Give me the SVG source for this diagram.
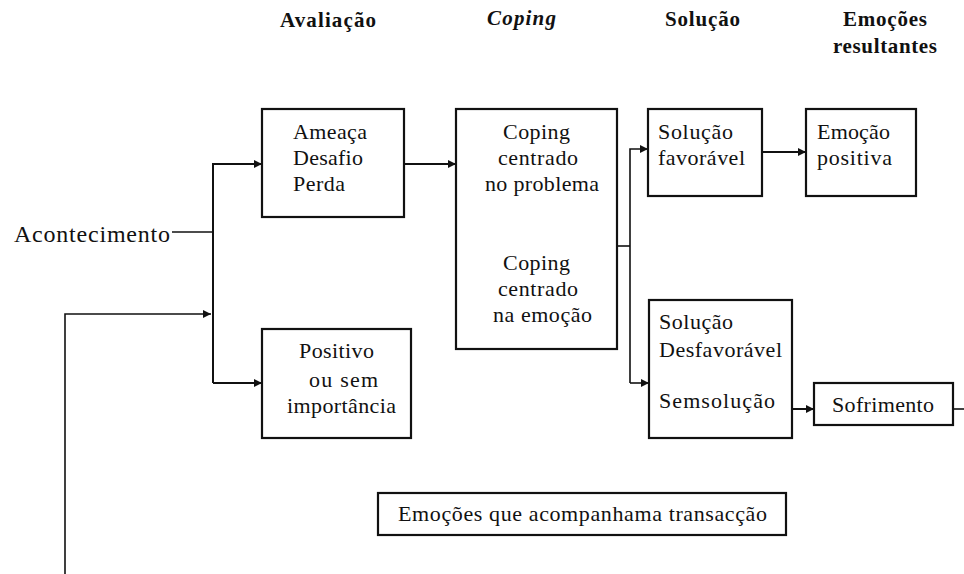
<svg xmlns="http://www.w3.org/2000/svg" width="964" height="574" viewBox="0 0 964 574">
<style>
text{font-family:"Liberation Serif",Tinos,"DejaVu Serif","Noto Serif",serif;font-size:22px;fill:#111}
.h{font-weight:bold;font-size:21px}
.hi{font-style:italic;font-weight:bold;font-size:21px}
.big{font-size:24px}
.box{fill:#fff;stroke:#111;stroke-width:2.2}
.c{fill:none;stroke:#111;stroke-width:1.6}
.t{fill:none;stroke:#111;stroke-width:2}
</style>
<defs>
<marker id="ah" viewBox="0 0 10 10" refX="10" refY="5" markerWidth="10" markerHeight="8" markerUnits="userSpaceOnUse" orient="auto">
<path d="M0,0 L10,5 L0,10 Z" fill="#111"/>
</marker>
</defs>
<g id="headers">
<text class="h" x="280" y="27" textLength="96">Avaliação</text>
<text class="hi" x="487" y="25" textLength="69">Coping</text>
<text class="h" x="665" y="26" textLength="75">Solução</text>
<text class="h" x="843" y="26" textLength="84">Emoções</text>
<text class="h" x="833" y="53" textLength="104">resultantes</text>
</g>
<g id="acontecimento">
<text class="big" x="14" y="242" textLength="156">Acontecimento</text>
</g>
<g id="connectors">
<path class="c" d="M172,232 H213"/>
<path class="t" d="M213,383 V164 H262" marker-end="url(#ah)"/>
<path class="t" d="M213,383 H262" marker-end="url(#ah)"/>
<path class="c" d="M65,574 V314 H211" marker-end="url(#ah)"/>
<path class="t" d="M404,164 H456" marker-end="url(#ah)"/>
<path class="c" d="M617,246 H630"/>
<path class="c" d="M630,383 V149 H648" marker-end="url(#ah)"/>
<path class="c" d="M630,383 H649" marker-end="url(#ah)"/>
<path class="t" d="M762,152 H806" marker-end="url(#ah)"/>
<path class="t" d="M792,409 H814" marker-end="url(#ah)"/>
<path class="c" d="M953,409 H964"/>
</g>
<g id="ameaca">
<rect class="box" x="262" y="109" width="142" height="108"/>
<text x="293" y="139" textLength="74">Ameaça</text>
<text x="293" y="165" textLength="70">Desafio</text>
<text x="293" y="191" textLength="52">Perda</text>
</g>
<g id="positivo">
<rect class="box" x="262" y="329" width="149" height="109"/>
<text x="299" y="358" textLength="75">Positivo</text>
<text x="309" y="387" textLength="69">ou sem</text>
<text x="287" y="413" textLength="109">importância</text>
</g>
<g id="coping">
<rect class="box" x="456" y="109" width="161" height="240"/>
<text x="503" y="139" textLength="67">Coping</text>
<text x="498" y="165" textLength="80">centrado</text>
<text x="485" y="191" textLength="114">no problema</text>
<text x="503" y="270" textLength="67">Coping</text>
<text x="498" y="296" textLength="80">centrado</text>
<text x="493" y="322" textLength="99">na emoção</text>
</g>
<g id="solucao-favoravel">
<rect class="box" x="648" y="109" width="114" height="87"/>
<text x="658" y="139" textLength="75">Solução</text>
<text x="658" y="165" textLength="87">favorável</text>
</g>
<g id="emocao-positiva">
<rect class="box" x="806" y="109" width="110" height="87"/>
<text x="817" y="139" textLength="73">Emoção</text>
<text x="817" y="165" textLength="75">positiva</text>
</g>
<g id="solucao-desfavoravel">
<rect class="box" x="649" y="300" width="143" height="138"/>
<text x="659" y="329" textLength="74">Solução</text>
<text x="659" y="357" textLength="123">Desfavorável</text>
<text x="659" y="408" textLength="116">Semsolução</text>
</g>
<g id="sofrimento">
<rect class="box" x="814" y="383" width="139" height="42"/>
<text x="832" y="412" textLength="102">Sofrimento</text>
</g>
<g id="emocoes-transaccao">
<rect class="box" x="378" y="493" width="408" height="42"/>
<text x="398" y="521" textLength="369">Emoções que acompanhama transacção</text>
</g>
</svg>
